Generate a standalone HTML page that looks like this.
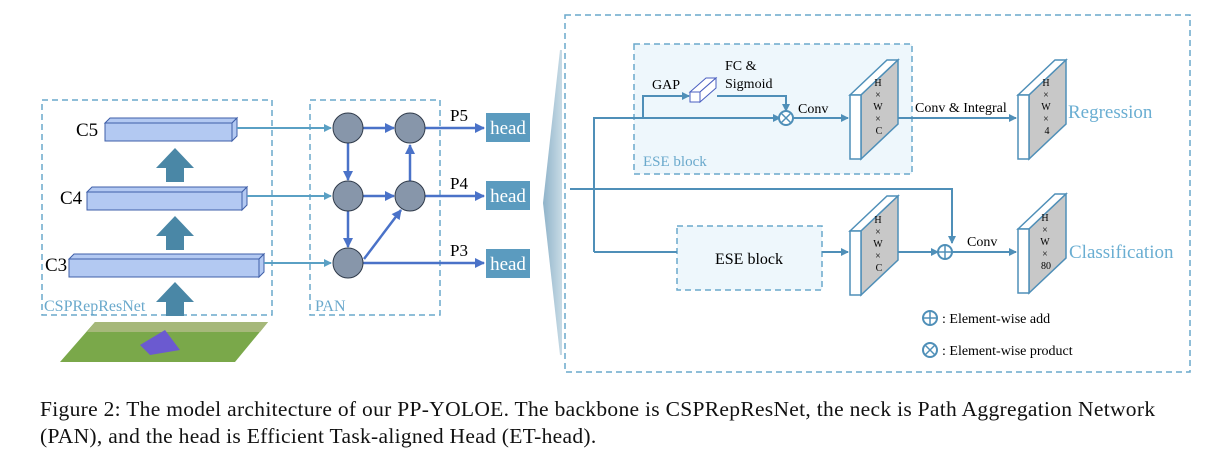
<!DOCTYPE html>
<html><head><meta charset="utf-8"><style>
body{margin:0;background:#fff;width:1230px;height:458px;overflow:hidden;position:relative}
svg{display:block}
.cap{position:absolute;left:40px;top:396px;font:21.5px "Liberation Serif",serif;letter-spacing:0.3px;color:#111;line-height:27px;white-space:nowrap}
</style></head><body>
<svg width="1230" height="458" viewBox="0 0 1230 458" xmlns="http://www.w3.org/2000/svg" font-family="Liberation Serif, serif">
<defs>
<marker id="a1" markerWidth="8" markerHeight="8" refX="7" refY="4" orient="auto" markerUnits="userSpaceOnUse"><path d="M0,0 L8,4 L0,8z" fill="#5aa0c4"/></marker>
<marker id="a2" markerWidth="10" markerHeight="10" refX="9" refY="5" orient="auto" markerUnits="userSpaceOnUse"><path d="M0,0 L10,5 L0,10z" fill="#4a72c8"/></marker>
<marker id="a3" markerWidth="8" markerHeight="8" refX="7" refY="4" orient="auto" markerUnits="userSpaceOnUse"><path d="M0,0 L8,4 L0,8z" fill="#4f8fb8"/></marker>
<linearGradient id="g" x1="0" x2="1"><stop offset="0" stop-color="#8fb3c9"/><stop offset="1" stop-color="#c8dbe6"/></linearGradient>
<g id="p">
<polygon points="0,35 37,0 48,0 11,35" fill="#fff" stroke="#4f8fb8" stroke-width="1.5"/>
<polygon points="11,35 48,0 48,64 11,99" fill="#c8c8c8" stroke="#4f8fb8" stroke-width="1.5"/>
<rect x="0" y="35" width="11" height="64" fill="#fff" stroke="#4f8fb8" stroke-width="1.5"/>
</g>
</defs>
<rect x="42" y="100" width="230" height="215" fill="none" stroke="#6aa9cc" stroke-width="1.5" stroke-dasharray="6,4"/>
<rect x="310" y="100" width="130" height="215" fill="none" stroke="#6aa9cc" stroke-width="1.5" stroke-dasharray="6,4"/>
<text x="44" y="311" font-size="16" fill="#6aa9cc">CSPRepResNet</text>
<text x="315" y="311" font-size="16" fill="#6aa9cc">PAN</text>
<g stroke="#3f5fa8" stroke-width="1" fill="#b3c9f2">
<polygon points="105,123 110,118 237,118 232,123"/><polygon points="232,123 237,118 237,136 232,141"/><rect x="105" y="123" width="127" height="18"/>
<polygon points="87,192 92,187 247,187 242,192"/><polygon points="242,192 247,187 247,205 242,210"/><rect x="87" y="192" width="155" height="18"/>
<polygon points="69,259 74,254 264,254 259,259"/><polygon points="259,259 264,254 264,272 259,277"/><rect x="69" y="259" width="190" height="18"/>
</g>
<text x="76" y="136" font-size="19">C5</text>
<text x="60" y="204" font-size="19">C4</text>
<text x="45" y="271" font-size="19">C3</text>
<g fill="#4a87a6">
<polygon points="156,168 175,148 194,168 184,168 184,182 166,182 166,168"/>
<polygon points="156,236 175,216 194,236 184,236 184,250 166,250 166,236"/>
<polygon points="156,302 175,282 194,302 184,302 184,316 166,316 166,302"/>
</g>
<polygon points="95,322 268,322 235,362 60,362" fill="#7aa84a"/>
<polygon points="95,322 268,322 260,332 87,332" fill="#a6b87a"/>
<polygon points="140,345 165,330 180,350 150,355" fill="#6b5ad0"/>
<g stroke="#5aa0c4" stroke-width="2" fill="none" marker-end="url(#a1)">
<line x1="237" y1="128" x2="331" y2="128"/><line x1="247" y1="196" x2="331" y2="196"/><line x1="264" y1="263" x2="331" y2="263"/>
</g>
<g stroke="#4a72c8" stroke-width="2.5" fill="none" marker-end="url(#a2)">
<line x1="363" y1="128" x2="394" y2="128"/><line x1="363" y1="196" x2="394" y2="196"/>
<line x1="348" y1="143" x2="348" y2="180"/><line x1="348" y1="211" x2="348" y2="247"/>
<line x1="410" y1="181" x2="410" y2="145"/><line x1="364" y1="259" x2="401" y2="210"/>
<line x1="425" y1="128" x2="484" y2="128"/><line x1="425" y1="196" x2="484" y2="196"/><line x1="363" y1="263" x2="484" y2="263"/>
</g>
<g fill="#8796aa" stroke="#2f3a4a" stroke-width="1">
<circle cx="348" cy="128" r="15"/><circle cx="410" cy="128" r="15"/><circle cx="348" cy="196" r="15"/><circle cx="410" cy="196" r="15"/><circle cx="348" cy="263" r="15"/>
</g>
<text x="450" y="121" font-size="17">P5</text><text x="450" y="189" font-size="17">P4</text><text x="450" y="256" font-size="17">P3</text>
<g fill="#5b9bbf"><rect x="486" y="113" width="44" height="29"/><rect x="486" y="181" width="44" height="29"/><rect x="486" y="249" width="44" height="29"/></g>
<g fill="#fff" font-size="19" text-anchor="middle"><text x="508" y="134">head</text><text x="508" y="202">head</text><text x="508" y="270">head</text></g>
<polygon points="560,50 543,203 560,355 562,355 562,50" fill="url(#g)"/>
<rect x="565" y="15" width="625" height="357" fill="none" stroke="#6aa9cc" stroke-width="1.5" stroke-dasharray="6,4"/>
<rect x="634" y="44" width="278" height="130" fill="#eef7fc" stroke="#6aa9cc" stroke-width="1.5" stroke-dasharray="6,4"/>
<text x="643" y="166" font-size="15" fill="#6aa9cc">ESE block</text>
<rect x="677" y="226" width="145" height="64" fill="#eef7fc" stroke="#6aa9cc" stroke-width="1.5" stroke-dasharray="6,4"/>
<text x="749" y="264" font-size="16" text-anchor="middle">ESE block</text>
<g stroke="#4f8fb8" stroke-width="2" fill="none">
<polyline points="594,252 594,118 780,118" marker-end="url(#a3)"/>
<line x1="594" y1="252" x2="677" y2="252"/>
<polyline points="570,189 952,189 952,243" marker-end="url(#a3)"/>
<polyline points="643,118 643,96 689,96" marker-end="url(#a3)"/>
<polyline points="717,96 786,96 786,111" marker-end="url(#a3)"/>
<line x1="793" y1="118" x2="848" y2="118" marker-end="url(#a3)"/>
<line x1="898" y1="118" x2="1016" y2="118" marker-end="url(#a3)"/>
<line x1="822" y1="252" x2="848" y2="252" marker-end="url(#a3)"/>
<line x1="898" y1="252" x2="938" y2="252" marker-end="url(#a3)"/>
<line x1="952" y1="252" x2="1016" y2="252" marker-end="url(#a3)"/>
</g>
<polygon points="690,92 706,78 716,78 700,92" fill="#fff" stroke="#4a5fc0"/><polygon points="700,92 716,78 716,88 700,102" fill="#fff" stroke="#4a5fc0"/><rect x="690" y="92" width="10" height="10" fill="#fff" stroke="#4a5fc0"/>
<text x="652" y="89" font-size="14">GAP</text>
<text x="725" y="70" font-size="14">FC &amp;</text><text x="725" y="88" font-size="14">Sigmoid</text>
<text x="798" y="113" font-size="14">Conv</text>
<text x="915" y="112" font-size="14">Conv &amp; Integral</text>
<text x="967" y="246" font-size="14">Conv</text>
<g stroke="#4f8fb8" stroke-width="2" fill="#fff"><circle cx="786" cy="118" r="7"/><circle cx="945" cy="252" r="7"/><circle cx="930" cy="318" r="7"/><circle cx="930" cy="350" r="7"/></g>
<g stroke="#4f8fb8" stroke-width="1.5"><line x1="781" y1="113" x2="791" y2="123"/><line x1="791" y1="113" x2="781" y2="123"/><line x1="938" y1="252" x2="952" y2="252"/><line x1="945" y1="245" x2="945" y2="259"/><line x1="923" y1="318" x2="937" y2="318"/><line x1="930" y1="311" x2="930" y2="325"/><line x1="925" y1="345" x2="935" y2="355"/><line x1="935" y1="345" x2="925" y2="355"/></g>
<text x="942" y="323" font-size="14">: Element-wise add</text>
<text x="942" y="355" font-size="14">: Element-wise product</text>
<use href="#p" x="850" y="60"/><use href="#p" x="1018" y="60"/><use href="#p" x="850" y="196"/><use href="#p" x="1018" y="194"/>
<g font-size="10" text-anchor="middle">
<text x="878" y="86">H</text><text x="878" y="98">×</text><text x="878" y="110">W</text><text x="878" y="122">×</text><text x="879" y="134">C</text>
<text x="1046" y="86">H</text><text x="1046" y="98">×</text><text x="1046" y="110">W</text><text x="1046" y="122">×</text><text x="1047" y="134">4</text>
<text x="878" y="223">H</text><text x="878" y="235">×</text><text x="878" y="247">W</text><text x="878" y="259">×</text><text x="879" y="271">C</text>
<text x="1045" y="221">H</text><text x="1045" y="233">×</text><text x="1045" y="245">W</text><text x="1045" y="257">×</text><text x="1046" y="269">80</text>
</g>
<text x="1068" y="118" font-size="19" fill="#6aaed2">Regression</text>
<text x="1069" y="258" font-size="19" fill="#6aaed2">Classification</text>
</svg>
<div class="cap">Figure 2: The model architecture of our PP-YOLOE. The backbone is CSPRepResNet, the neck is Path Aggregation Network<br>(PAN), and the head is Efficient Task-aligned Head (ET-head).</div>
</body></html>
